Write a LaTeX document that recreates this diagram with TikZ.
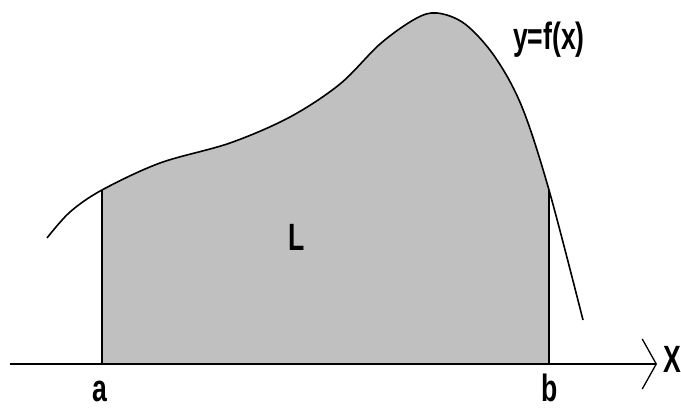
\documentclass[tikz,border=0pt]{standalone}
\usepackage{fontspec}
\setsansfont{Liberation Sans}
\usepackage{tikz}
\usetikzlibrary{arrows.meta}
\definecolor{areagray}{HTML}{C0C0C0}

\begin{document}
\begin{tikzpicture}[x=1pt,y=1pt,
    lbl/.style={font=\sffamily\bfseries\fontsize{38}{38}\selectfont, xscale=.7, transform shape, inner sep=0pt, anchor=base},
    curve/.style={line width=1.6pt}]
            \useasboundingbox (0,0) rectangle (681,408);
            % Points on the axis and under the curve
            \coordinate (O) at (10,44);
            \coordinate (xend) at (657,44);
            \coordinate (pa) at (102,44);
            \coordinate (pb) at (549,44);
            \coordinate (fa) at (102,218);
            \coordinate (fb) at (549,218);

            % Shade the area between a and b
            \begin{scope}
              \clip (pa) rectangle (549,408);
              \fill[areagray] plot[smooth, tension=.55] coordinates {(47,170) (70,196) (102,218) (160,245) (230,265) (290,291) (340,324) (380,364) (415,389) (437,395) (465,384) (495,351) (522,301) (549,218) (583,88)} -- (583,44) -- (47,44) -- cycle;
            \end{scope}

            % Draw the curve
            \draw[curve] plot[smooth, tension=.55] coordinates {(47,170) (70,196) (102,218) (160,245) (230,265) (290,291) (340,324) (380,364) (415,389) (437,395) (465,384) (495,351) (522,301) (549,218) (583,88)};

            % Bounds and axis
            \draw[line width=1.3pt] (pa) -- (fa);
            \draw[line width=1.3pt] (pb) -- (fb);
            \draw[line width=1.8pt, -{Straight Barb[length=14pt, width=50pt, line width=1.3pt]}] (O) -- (xend);

            % Labels
            \node[lbl] (xlab) at (672,36) {X};
            \node[lbl] (alab) at (100,7) {a};
            \node[lbl] (blab) at (550,7) {b};
            \node[lbl] (area) at (297,158) {L};
            \node[lbl] (flab) at (549,358) {y=f(x)};
          \end{tikzpicture}
\end{document}
